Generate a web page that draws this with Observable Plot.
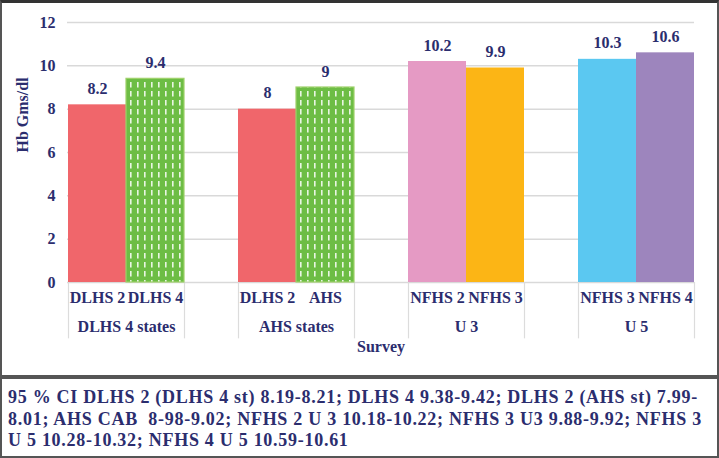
<!DOCTYPE html>
<html>
<head>
<meta charset="utf-8">
<script src="https://cdn.jsdelivr.net/npm/d3@7"></script>
<script src="https://cdn.jsdelivr.net/npm/@observablehq/plot@0.6"></script>
<style>
  html, body { margin: 0; padding: 0; background: #fff; }
  body { width: 719px; height: 458px; position: relative; overflow: hidden; font-family: "Liberation Serif", "Times New Roman", serif; }
  #chartbox { position: absolute; left: 0; top: 0; width: 715px; height: 372px; border: 2px solid #555; border-top: 3px solid #333; overflow: hidden; }
  #chart { position: absolute; left: -2px; top: -3px; width: 719px; height: 375px; }
  #chart > svg { position: absolute; left: 0; top: 0; }
  #caption { position: absolute; left: 0; top: 377px; width: 701px; height: 67px; border: 2px solid #555; padding: 8px 8px 2px 6px;
    font-family: "Liberation Serif", "Times New Roman", serif; font-weight: bold; font-size: 18px; letter-spacing: 0.72px; line-height: 21.5px; color: #2b2d6e; white-space: nowrap; }
</style>
</head>
<body>
<div id="chartbox"><div id="chart"></div></div>
<div id="caption"></div>
<script>
const groups = ["DLHS 4 states", "AHS states", "U 3", "U 5"];
const barGroups = ["DLHS 4 states", "DLHS 4 states", "AHS states", "AHS states", "U 3", "U 3", "U 5", "U 5"];
const surveys = ["DLHS 2", "DLHS 4", "DLHS 2", "AHS", "NFHS 2", "NFHS 3", "NFHS 3", "NFHS 4"];
const values = [8.2, 9.4, 8, 9, 10.2, 9.9, 10.3, 10.6];
const valueLabels = ["8.2", "9.4", "8", "9", "10.2", "9.9", "10.3", "10.6"];
const slots = [0, 1, 0, 1, 0, 1, 0, 1];
const colors = ["#f0666b", "#6dbd45", "#f0666b", "#6dbd45", "#e59ac4", "#fcb515", "#5bc8f1", "#9d85bd"];
const patterned = [false, true, false, true, false, false, false, false];
const yTicks = [0, 2, 4, 6, 8, 10, 12];
const groupEdges = [0, 2];
const yLabel = "Hb Gms/dl";
const xLabel = "Survey";
const captionLines = [
  "95 % CI DLHS 2 (DLHS 4 st) 8.19-8.21; DLHS 4 9.38-9.42; DLHS 2 (AHS st) 7.99-",
  "8.01; AHS CAB  8-98-9.02; NFHS 2 U 3 10.18-10.22; NFHS 3 U3 9.88-9.92; NFHS 3",
  "U 5 10.28-10.32; NFHS 4 U 5 10.59-10.61"
];

const data = surveys.map((s, i) => ({
  group: barGroups[i], survey: s, value: values[i], label: valueLabels[i],
  slot: slots[i], color: colors[i], patterned: patterned[i]
}));

const navy = "#2b2d6e";
const W = 719, H = 375;
const margins = { marginLeft: 67, marginRight: 25, marginTop: 22, marginBottom: 93 };
const serif = "'Liberation Serif', 'Times New Roman', serif";
const baseStyle = { fontFamily: serif, fontWeight: "bold", fontSize: "16px", color: navy, background: "transparent" };

// background layer: gridlines spanning the whole frame, axis titles
const background = Plot.plot({
  width: W, height: H, ...margins,
  style: baseStyle,
  x: { domain: [0, 1], axis: null },
  y: { domain: [0, 12], axis: null },
  marks: [
    Plot.ruleY(yTicks, { stroke: "#d9d9d9", strokeWidth: 1.5 }),
    Plot.text([xLabel], { frameAnchor: "bottom", text: d => d, dy: 69, fill: navy, fontSize: 16, fontWeight: "bold" }),
    Plot.text([yLabel], { frameAnchor: "left", text: d => d, rotate: -90, dx: -45, fill: navy, fontSize: 16, fontWeight: "bold" })
  ]
});

// foreground layer: grouped bars
const chart = Plot.plot({
  width: W, height: H, ...margins,
  style: baseStyle,
  fx: { domain: groups, paddingInner: 0.32, paddingOuter: 0, axis: "bottom", label: null, tickSize: 0, tickPadding: 38 },
  x: { domain: [0, 2], axis: null },
  y: { domain: [0, 12], ticks: yTicks, label: null, tickSize: 0, tickPadding: 13 },
  color: { type: "identity" },
  marks: [
    Plot.ruleX(groupEdges, { y1: 0, y2: -2.6, stroke: "#dcdcdc", strokeWidth: 1.2 }),
    Plot.rectY(data, { fx: "group", x1: "slot", x2: d => d.slot + 1, y: "value", fill: "color" }),
    Plot.rectY(data.filter(d => d.patterned), { fx: "group", x1: "slot", x2: d => d.slot + 1, y: "value", fill: "url(#dashpat)", stroke: "#9ed16a", strokeWidth: 1.2 }),
    Plot.text(data, { fx: "group", x: d => d.slot + 0.5, y: "value", text: "label", dy: -16, fill: navy, fontSize: 16, fontWeight: "bold" }),
    Plot.text(data, { fx: "group", x: d => d.slot + 0.5, y: 0, text: "survey", dy: 15, fill: navy, fontSize: 16, fontWeight: "bold" })
  ]
});

// pattern definition for the dashed green bars
const svgNS = "http://www.w3.org/2000/svg";
const svg = chart.tagName.toLowerCase() === "svg" ? chart : chart.querySelector("svg");
const defs = document.createElementNS(svgNS, "defs");
const pat = document.createElementNS(svgNS, "pattern");
pat.setAttribute("id", "dashpat");
pat.setAttribute("patternUnits", "userSpaceOnUse");
pat.setAttribute("width", "7");
pat.setAttribute("height", "9");
const dash = document.createElementNS(svgNS, "rect");
dash.setAttribute("x", "3");
dash.setAttribute("y", "1");
dash.setAttribute("width", "1.6");
dash.setAttribute("height", "5.5");
dash.setAttribute("fill", "#ffffff");
dash.setAttribute("fill-opacity", "0.85");
pat.appendChild(dash);
defs.appendChild(pat);
svg.insertBefore(defs, svg.firstChild);

const holder = document.getElementById("chart");
holder.appendChild(background);
holder.appendChild(chart);
document.getElementById("caption").innerHTML = captionLines.map(l => l.replace(/  /g, " &nbsp;")).join("<br>");
</script>
</body>
</html>
